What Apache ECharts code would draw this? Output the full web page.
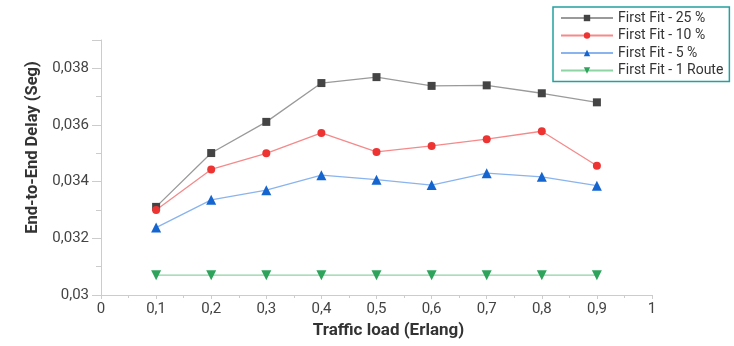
<!DOCTYPE html>
<html><head><meta charset="utf-8">
<script src="https://cdn.jsdelivr.net/npm/echarts@6/dist/echarts.min.js"></script>
<style>html,body{margin:0;padding:0;background:#fff}#c{width:734px;height:346px}</style>
</head><body><div id="c"></div>
<script>
const xValues = [0.1,0.2,0.3,0.4,0.5,0.6,0.7,0.8,0.9];
const seriesNames = ['First Fit - 25 %','First Fit - 10 %','First Fit - 5 %','First Fit - 1 Route'];
const ff25 = [0.03311,0.03501,0.03611,0.03748,0.03769,0.03738,0.0374,0.03712,0.0368];
const ff10 = [0.0330,0.03443,0.0350,0.03572,0.03505,0.03526,0.0355,0.03578,0.03456];
const ff5 = [0.03238,0.03336,0.0337,0.03423,0.03407,0.03388,0.0343,0.03417,0.03386];
const ff1 = [0.0307,0.0307,0.0307,0.0307,0.0307,0.0307,0.0307,0.0307,0.0307];

const fmt = v => String(Number(v.toFixed(4))).replace('.', ',');
const chart = echarts.init(document.getElementById('c'));
const mk = (name, data, lineColor, markColor, symbol, size) => ({
  name, type: 'line', data: xValues.map((x,i)=>[x,data[i]]),
  symbol, symbolSize: size, showSymbol: true,
  lineStyle: {color: lineColor, width: 1.3},
  itemStyle: {color: markColor, borderWidth: 0},
  emphasis: {disabled: true}, animation: false
});
chart.setOption({
  animation: false,
  textStyle: {fontFamily: 'Roboto'},
  grid: {left: 101, right: 82, top: 40, bottom: 51},
  legend: {
    orient: 'vertical', left: 553, top: 7,
    itemWidth: 52, itemHeight: 8, itemGap: 3.5,
    padding: [4, 6, 4, 7],
    borderColor: '#23a0a0', borderWidth: 1.5,
    textStyle: {fontSize: 14, color: '#333', fontFamily: 'Roboto'},
    data: seriesNames
  },
  xAxis: {
    type: 'value', min: 0, max: 1, interval: 0.1,
    name: 'Traffic load (Erlang)', nameLocation: 'middle', nameGap: 26,
    nameTextStyle: {fontSize: 17, fontWeight: 'bold', color: '#333', padding: [0, 0, 0, 24]},
    axisLine: {lineStyle: {color: '#ccc'}},
    axisTick: {show: true, length: 4, lineStyle: {color: '#ccc'}},
    minorTick: {show: true, splitNumber: 2, length: 3, lineStyle: {color: '#ccc'}},
    axisLabel: {formatter: fmt, fontSize: 15, color: '#444', margin: 7},
    splitLine: {show: false}
  },
  yAxis: {
    type: 'value', min: 0.03, max: 0.039, interval: 0.002,
    name: 'End-to-End Delay (Seg)', nameLocation: 'middle', nameGap: 55,
    nameTextStyle: {fontSize: 16.5, fontWeight: 'bold', color: '#333', padding: [0, 0, 0, 40]},
    axisLine: {show: true, lineStyle: {color: '#ccc'}},
    axisTick: {show: true, length: 9, lineStyle: {color: '#ccc'}},
    minorTick: {show: true, splitNumber: 2, length: 5, lineStyle: {color: '#ccc'}},
    axisLabel: {formatter: v => v > 0.0385 ? '' : fmt(v), fontSize: 15, color: '#444', margin: 12},
    splitLine: {show: false}
  },
  series: [
    mk(seriesNames[0], ff25, '#9a9a9a', '#444', 'rect', 8),
    mk(seriesNames[1], ff10, '#f58a8a', '#ee3333', 'circle', 8),
    mk(seriesNames[2], ff5, '#8ab4ee', '#1565d0', 'triangle', 10),
    mk(seriesNames[3], ff1, '#8fd4a4', '#2ea35b', 'path://M0,0 L10,0 L5,8 Z', 10)
  ]
});
</script></body></html>
